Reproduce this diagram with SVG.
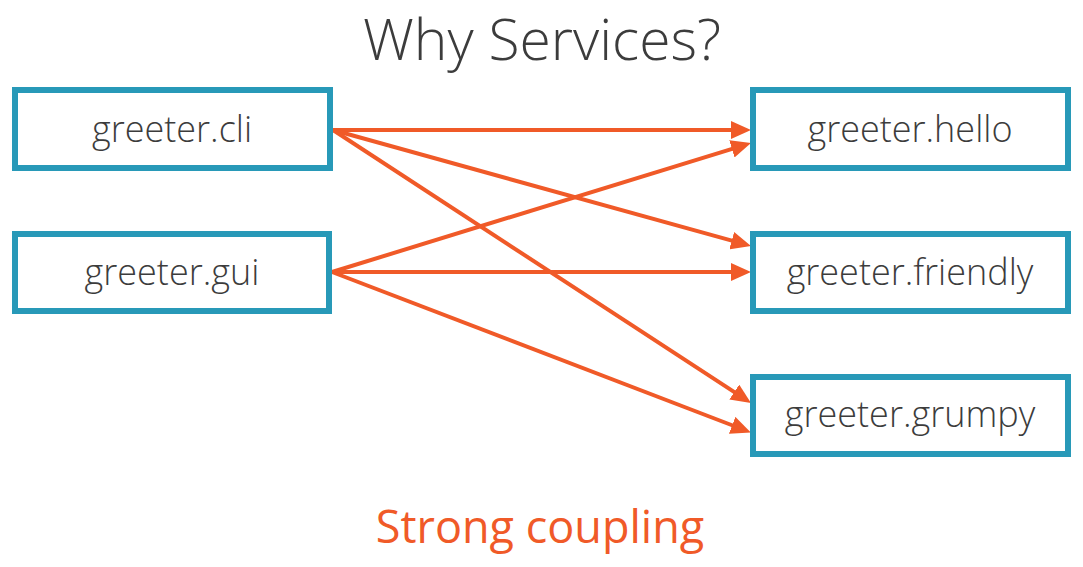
<svg xmlns="http://www.w3.org/2000/svg" width="1083" height="567" viewBox="0 0 1083 567">
<style>
.box{fill:#fff;stroke:#2899B8;stroke-width:6}
.lbl{font-family:"Open Sans","Liberation Sans",sans-serif;font-weight:300;font-size:36px;fill:#3c3c3c;text-anchor:middle}
.title{font-family:"Open Sans","Liberation Sans",sans-serif;font-weight:300;font-size:57px;fill:#3c3c3c;text-anchor:middle}
.sub{font-family:"Open Sans","Liberation Sans",sans-serif;font-weight:400;font-size:45px;fill:#F05A28;text-anchor:middle}
.edge{stroke:#F05A28;stroke-width:4;fill:none;marker-end:url(#ah)}
</style>
<defs>
<marker id="ah" markerUnits="userSpaceOnUse" markerWidth="20" markerHeight="18" refX="2" refY="9" orient="auto">
<path d="M0,0 L20,9 L0,18 Z" fill="#F05A28"/>
</marker>
</defs>
<rect width="1083" height="567" fill="#fff"/>
<text class="title" x="542" y="60">Why Services?</text>
<g id="edges">
<line class="edge" x1="333" y1="130" x2="733" y2="130"/>
<line class="edge" x1="333" y1="130" x2="733.65" y2="241.19"/>
<line class="edge" x1="333" y1="130" x2="735.93" y2="393.16"/>
<line class="edge" x1="332" y1="272" x2="733.8" y2="148.3"/>
<line class="edge" x1="332" y1="272" x2="733" y2="272"/>
<line class="edge" x1="332" y1="272" x2="734.03" y2="426"/>
</g>
<g id="cli"><rect class="box" x="15" y="90" width="315" height="78"/><text class="lbl" x="172" y="142">greeter.cli</text></g>
<g id="gui"><rect class="box" x="15" y="234" width="314" height="77"/><text class="lbl" x="172" y="285">greeter.gui</text></g>
<g id="hello"><rect class="box" x="753" y="90" width="315" height="78"/><text class="lbl" x="910" y="142">greeter.hello</text></g>
<g id="friendly"><rect class="box" x="753" y="234" width="315" height="77"/><text class="lbl" x="910" y="285">greeter.friendly</text></g>
<g id="grumpy"><rect class="box" x="753" y="377" width="315" height="77"/><text class="lbl" x="910" y="427">greeter.grumpy</text></g>
<text class="sub" x="540" y="543">Strong coupling</text>
</svg>
